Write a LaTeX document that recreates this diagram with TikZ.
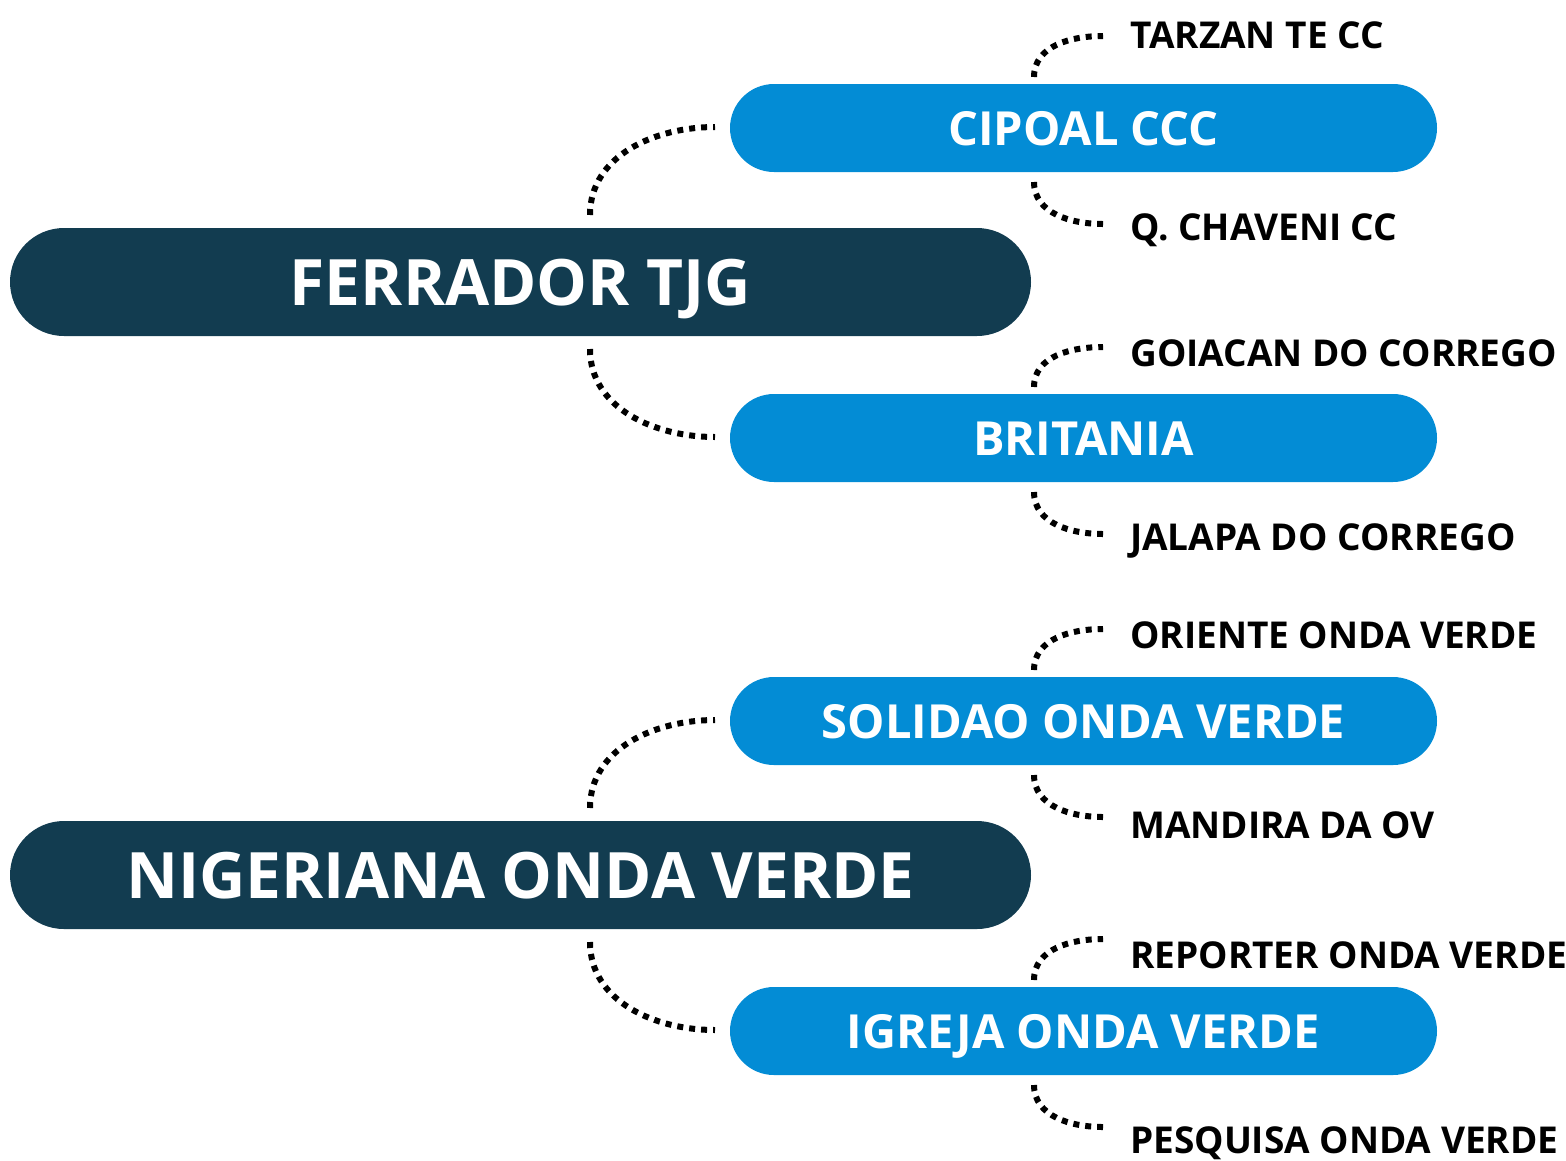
\documentclass[tikz,border=0pt]{standalone}
\usepackage{fontspec}
\setmainfont{Open Sans}
\definecolor{darkbox}{HTML}{123C50}
\definecolor{bluebox}{HTML}{038CD5}
\begin{document}
\begin{tikzpicture}[x=1pt,y=-1pt,
  mainbox/.style={fill=darkbox,rounded corners=54pt,minimum width=1021pt,minimum height=108pt,text=white,font=\fontsize{64}{64}\selectfont\bfseries,inner sep=0pt,text height=46pt,text depth=0pt},
  subbox/.style={fill=bluebox,rounded corners=44pt,minimum width=707pt,minimum height=88pt,text=white,font=\fontsize{47}{47}\selectfont\bfseries,inner sep=0pt,text height=34pt,text depth=0pt},
  leaf/.style={anchor=base west,font=\fontsize{37}{37}\selectfont\bfseries,inner sep=0pt,text=black},
  dotline/.style={draw=black,line width=6pt,dash pattern=on 6pt off 6pt,line cap=butt}]
\useasboundingbox (0,0) rectangle (1566,1160);

% main boxes
\node[mainbox] (ferrador) at (520.5,282) {FERRADOR TJG};
\node[mainbox] (nigeriana) at (520.5,875) {NIGERIANA ONDA VERDE};

% sub boxes
\node[subbox] (cipoal) at (1083.5,128) {CIPOAL CCC};
\node[subbox] (britania) at (1083.5,438) {BRITANIA};
\node[subbox] (solidao) at (1083.5,721) {SOLIDAO ONDA VERDE};
\node[subbox] (igreja) at (1083.5,1031) {IGREJA ONDA VERDE};

% leaves
\node[leaf] (tarzan) at (1130,48) {TARZAN TE CC};
\node[leaf] (chaveni) at (1130,240) {Q. CHAVENI CC};
\node[leaf] (goiacan) at (1130,366) {GOIACAN DO CORREGO};
\node[leaf] (jalapa) at (1130,550) {JALAPA DO CORREGO};
\node[leaf] (oriente) at (1130,648) {ORIENTE ONDA VERDE};
\node[leaf] (mandira) at (1130,838) {MANDIRA DA OV};
\node[leaf] (reporter) at (1130,968) {REPORTER ONDA VERDE};
\node[leaf] (pesquisa) at (1130,1153) {PESQUISA ONDA VERDE};

% connector end points
\coordinate (f-up) at (590,215);
\coordinate (f-dn) at (590,349);
\coordinate (n-up) at (590,808);
\coordinate (n-dn) at (590,942);
\coordinate (c-in) at (715,127);
\coordinate (b-in) at (715,437);
\coordinate (s-in) at (715,720);
\coordinate (i-in) at (715,1030);

\coordinate (c-up) at (1034,77);
\coordinate (c-dn) at (1034,182);
\coordinate (b-up) at (1034,387);
\coordinate (b-dn) at (1034,492);
\coordinate (s-up) at (1034,670);
\coordinate (s-dn) at (1034,775);
\coordinate (i-up) at (1034,980);
\coordinate (i-dn) at (1034,1085);

\coordinate (tarzan-in) at (1103,36);
\coordinate (chaveni-in) at (1103,224);
\coordinate (goiacan-in) at (1103,347);
\coordinate (jalapa-in) at (1103,534);
\coordinate (oriente-in) at (1103,629);
\coordinate (mandira-in) at (1103,817);
\coordinate (reporter-in) at (1103,939);
\coordinate (pesquisa-in) at (1103,1127);

\draw[dotline] (f-up) to[out=90,in=180] (c-in);
\draw[dotline] (f-dn) to[out=-90,in=180] (b-in);
\draw[dotline] (n-up) to[out=90,in=180] (s-in);
\draw[dotline] (n-dn) to[out=-90,in=180] (i-in);

\draw[dotline] (c-up) to[out=90,in=180] (tarzan-in);
\draw[dotline] (c-dn) to[out=-90,in=180] (chaveni-in);
\draw[dotline] (b-up) to[out=90,in=180] (goiacan-in);
\draw[dotline] (b-dn) to[out=-90,in=180] (jalapa-in);
\draw[dotline] (s-up) to[out=90,in=180] (oriente-in);
\draw[dotline] (s-dn) to[out=-90,in=180] (mandira-in);
\draw[dotline] (i-up) to[out=90,in=180] (reporter-in);
\draw[dotline] (i-dn) to[out=-90,in=180] (pesquisa-in);
\end{tikzpicture}
\end{document}
